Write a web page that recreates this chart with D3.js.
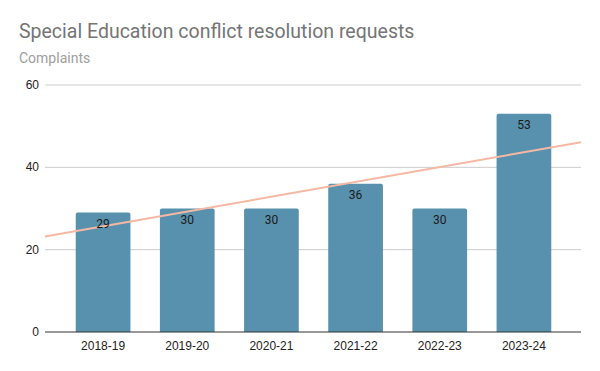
<!DOCTYPE html>
<html>
<head>
<meta charset="utf-8">
<script src="https://cdn.jsdelivr.net/npm/d3@7"></script>
<style>
  body { margin: 0; background: #fff; }
  svg { display: block; }
</style>
</head>
<body>
<div id="chart"></div>
<script>
const width = 600, height = 371;

const years = ["2018-19", "2019-20", "2020-21", "2021-22", "2022-23", "2023-24"];
const complaints = [29, 30, 30, 36, 30, 53];
const yTicks = [0, 20, 40, 60];

const barColor = "#5891ae", trendColor = "#f5b8a2";

const svg = d3.select("#chart").append("svg")
    .attr("width", width)
    .attr("height", height);

svg.append("rect").attr("width", width).attr("height", height).attr("fill", "#fff");

svg.append("text")
    .attr("x", 19).attr("y", 38)
    .attr("font-family", "Roboto, Arial, sans-serif")
    .attr("font-size", 19.5)
    .attr("fill", "#757575")
    .text("Special Education conflict resolution requests");

svg.append("text")
    .attr("x", 19).attr("y", 63)
    .attr("font-family", "Roboto, Arial, sans-serif")
    .attr("font-size", 14)
    .attr("fill", "#9e9e9e")
    .text("Complaints");

const plotLeft = 45, plotRight = 581;

const x = d3.scaleBand()
    .domain(years)
    .range([61, 566])
    .paddingInner(0.35)
    .paddingOuter(0.175);

const y = d3.scaleLinear()
    .domain([0, 60])
    .range([332, 85]);

// gridlines
svg.append("g")
    .selectAll("line")
    .data(yTicks.filter(d => d !== 0))
    .join("line")
    .attr("x1", plotLeft).attr("x2", plotRight)
    .attr("y1", d => y(d)).attr("y2", d => y(d))
    .attr("stroke", "#cccccc").attr("stroke-width", 1);

// y labels
svg.append("g")
    .selectAll("text")
    .data(yTicks)
    .join("text")
    .attr("x", 39)
    .attr("y", d => y(d) + 4)
    .attr("text-anchor", "end")
    .attr("font-family", "Arial, 'Liberation Sans', sans-serif")
    .attr("font-size", 12)
    .attr("fill", "#222")
    .text(d => d);

// bars with rounded tops
const r = 2;
svg.append("g")
    .selectAll("path")
    .data(years)
    .join("path")
    .attr("fill", barColor)
    .attr("d", (d, i) => {
        const x0 = x(d), w = x.bandwidth(), y0 = y(complaints[i]), y1 = y(0);
        return `M${x0},${y1}V${y0 + r}Q${x0},${y0} ${x0 + r},${y0}H${x0 + w - r}Q${x0 + w},${y0} ${x0 + w},${y0 + r}V${y1}Z`;
    });

// linear trendline (least squares over category index)
const mx = d3.mean(complaints, (d, i) => i);
const my = d3.mean(complaints);
const slope = d3.sum(complaints, (d, i) => (i - mx) * (d - my)) / d3.sum(complaints, (d, i) => (i - mx) ** 2);
const icpt = my - slope * mx;
const step = x.step();
const c0 = x(years[0]) + x.bandwidth() / 2;
const idx = px => (px - c0) / step;

svg.append("line")
    .attr("x1", plotLeft).attr("x2", plotRight)
    .attr("y1", y(icpt + slope * idx(plotLeft)))
    .attr("y2", y(icpt + slope * idx(plotRight)))
    .attr("stroke", trendColor)
    .attr("stroke-width", 2);

// bar labels
svg.append("g")
    .selectAll("text")
    .data(years)
    .join("text")
    .attr("x", d => x(d) + x.bandwidth() / 2)
    .attr("y", (d, i) => y(complaints[i]) + 15)
    .attr("text-anchor", "middle")
    .attr("font-family", "Roboto, Arial, sans-serif")
    .attr("font-size", 12)
    .attr("fill", "#1a1a1a")
    .text((d, i) => complaints[i]);

// baseline
svg.append("line")
    .attr("x1", plotLeft).attr("x2", plotRight)
    .attr("y1", y(0)).attr("y2", y(0))
    .attr("stroke", "#333").attr("stroke-width", 1);

// x labels
svg.append("g")
    .selectAll("text")
    .data(years)
    .join("text")
    .attr("x", d => x(d) + x.bandwidth() / 2)
    .attr("y", 350)
    .attr("text-anchor", "middle")
    .attr("font-family", "Arial, 'Liberation Sans', sans-serif")
    .attr("font-size", 12)
    .attr("fill", "#222")
    .text(d => d);
</script>
</body>
</html>
